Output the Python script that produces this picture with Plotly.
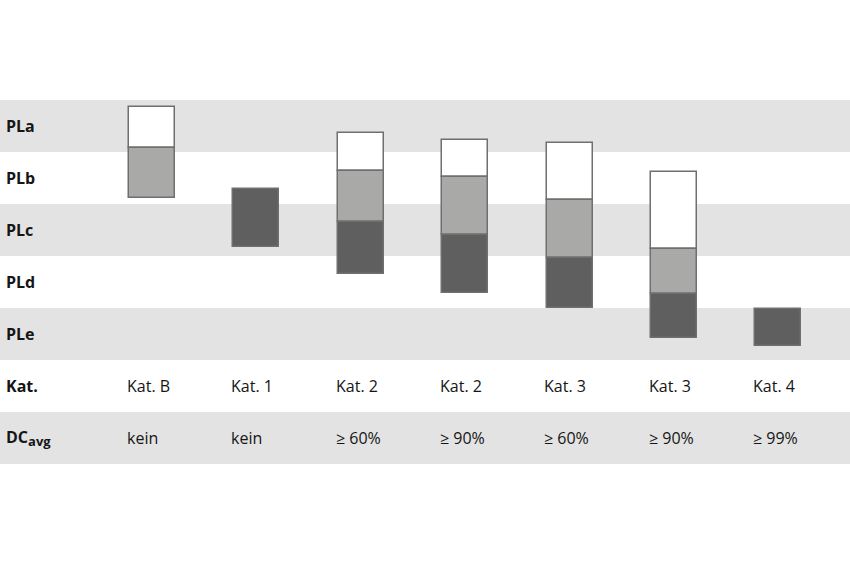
import plotly.graph_objects as go

# Row labels (top to bottom), each row is one unit tall
row_labels = ["<b>PLa</b>", "<b>PLb</b>", "<b>PLc</b>", "<b>PLd</b>", "<b>PLe</b>",
              "<b>Kat.</b>", "<b>DC<sub><span style='font-size:13px'>avg</span></sub></b>"]
shaded_rows = [0, 2, 4, 6]

# Columns
kat_labels = ["Kat. B", "Kat. 1", "Kat. 2", "Kat. 2", "Kat. 3", "Kat. 3", "Kat. 4"]
dc_labels = ["kein", "kein", "≥ 60%", "≥ 90%", "≥ 60%", "≥ 90%", "≥ 99%"]

# Segment boundaries on the PL scale (0 = top of PLa, 5 = bottom of PLe); None = no segment
white_start = [0.13, None, 0.64, 0.76, 0.82, 1.38, None]
white_end   = [0.93, None, 1.37, 1.49, 1.92, 2.87, None]
light_end   = [1.89, None, 2.35, 2.60, 3.03, 3.73, None]
dark_start  = [None, 1.72, 2.35, 2.60, 3.03, 3.73, 4.01]
dark_end    = [None, 2.83, 3.34, 3.71, 4.00, 4.58, 4.73]

x = list(range(len(kat_labels)))
BW = 0.44
line = dict(color="#6f6f6f", width=1.5)

fig = go.Figure()

def add_seg(starts, ends, color):
    xs, bases, lens = [], [], []
    for i, (s, e) in enumerate(zip(starts, ends)):
        if s is None or e is None:
            continue
        xs.append(i); bases.append(s); lens.append(e - s)
    fig.add_trace(go.Bar(x=xs, y=lens, base=bases, width=BW,
                         marker=dict(color=color, line=line),
                         hoverinfo="skip", showlegend=False))

add_seg(white_start, white_end, "#ffffff")
add_seg(white_end, light_end, "#a9a9a8")
add_seg(dark_start, dark_end, "#5f5f5f")

shapes = []
for r in shaded_rows:
    shapes.append(dict(type="rect", xref="paper", yref="y", x0=0, x1=1, y0=r, y1=r + 1,
                       fillcolor="#e3e3e3", line=dict(width=0), layer="below"))

annotations = []
font = dict(family="Open Sans", size=16, color="#151515")
for r, lab in enumerate(row_labels):
    annotations.append(dict(text=lab, xref="paper", yref="y", x=4 / 850, y=r + 0.5,
                            xanchor="left", yanchor="middle", showarrow=False, font=font))
for i in x:
    annotations.append(dict(text=kat_labels[i], xref="x", yref="y", x=i - BW / 2 - 0.04, y=5.5,
                            xanchor="left", yanchor="middle", showarrow=False, font=font))
    annotations.append(dict(text=dc_labels[i], xref="x", yref="y", x=i - BW / 2 - 0.04, y=6.5,
                            xanchor="left", yanchor="middle", showarrow=False, font=font))

px_per_unit_y = 52.0
top_px = 100.0
y_top = -top_px / px_per_unit_y
y_bot = (566 - top_px) / px_per_unit_y
x0_px, dx_px = 152.0, 104.4
x_left = -x0_px / dx_px
x_right = (850 - x0_px) / dx_px

fig.update_layout(
    width=850, height=566,
    margin=dict(l=0, r=0, t=0, b=0),
    paper_bgcolor="white", plot_bgcolor="rgba(0,0,0,0)",
    barmode="overlay", bargap=0,
    shapes=shapes, annotations=annotations,
    xaxis=dict(range=[x_left, x_right], visible=False, fixedrange=True),
    yaxis=dict(range=[y_bot, y_top], visible=False, fixedrange=True),
)

fig.write_html("out.html")
